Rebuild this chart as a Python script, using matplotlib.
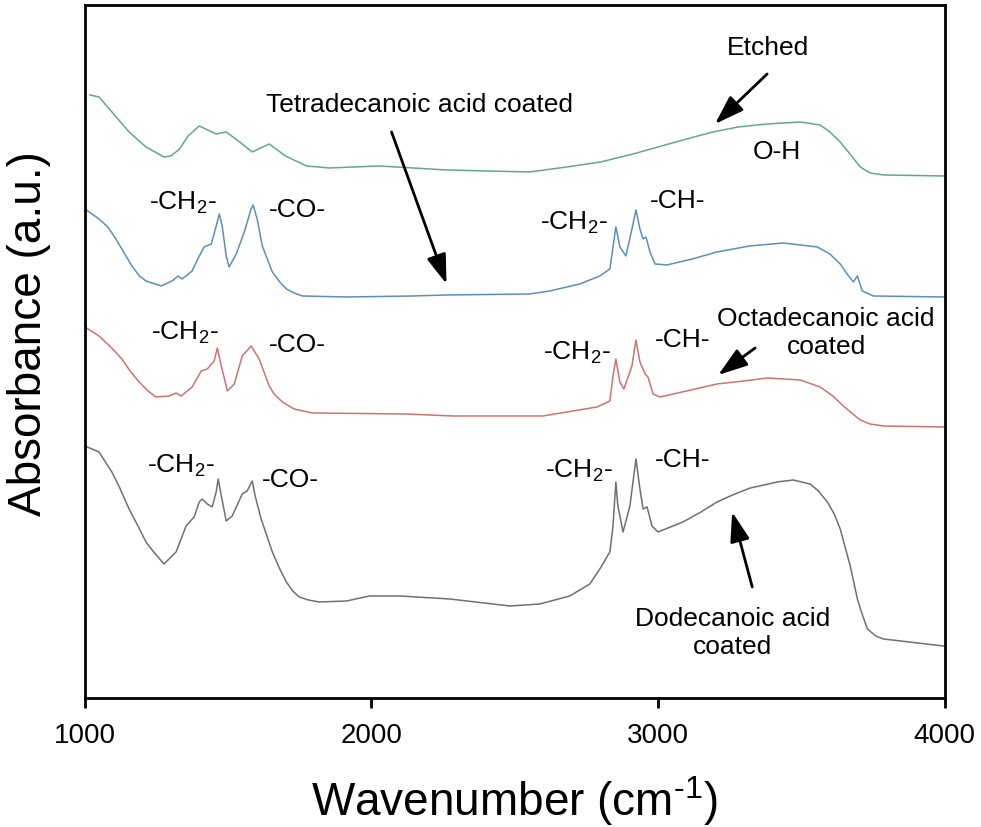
import matplotlib
matplotlib.use("Agg")
import matplotlib.pyplot as plt

plt.rcParams['font.family'] = ['Liberation Sans', 'DejaVu Sans']
plt.rcParams['mathtext.fontset'] = 'custom'
plt.rcParams['mathtext.rm'] = 'Liberation Sans'
plt.rcParams['mathtext.default'] = 'regular'

# FTIR spectra (wavenumber in cm-1, absorbance in a.u., stacked)
etched_wn = [1017, 1049, 1100, 1154, 1213, 1276, 1300, 1330, 1360, 1399, 1458, 1493, 1540, 1584,
             1643, 1700, 1773, 1853, 2028, 2262, 2552, 2682, 2800, 2913, 3050, 3100, 3192, 3280,
             3381, 3497, 3566, 3600, 3636, 3670, 3706, 3740, 3787, 3996]
etched_abs = [6.09, 6.07, 5.90, 5.72, 5.57, 5.47, 5.48, 5.55, 5.68, 5.78, 5.70, 5.72, 5.62, 5.52,
              5.60, 5.48, 5.38, 5.36, 5.38, 5.34, 5.32, 5.37, 5.42, 5.50, 5.61, 5.65, 5.72, 5.77,
              5.80, 5.82, 5.79, 5.72, 5.62, 5.50, 5.37, 5.31, 5.29, 5.28]

tetra_wn = [1000, 1049, 1080, 1108, 1135, 1164, 1190, 1213, 1266, 1304, 1325, 1339, 1374, 1399,
            1416, 1441, 1458, 1469, 1479, 1493, 1503, 1528, 1556, 1580, 1587, 1601, 1619, 1654,
            1680, 1703, 1730, 1759, 1913, 2143, 2262, 2552, 2622, 2727, 2797, 2832, 2843, 2853,
            2867, 2888, 2909, 2923, 2937, 2948, 2958, 2972, 2990, 3031, 3120, 3206, 3320, 3437,
            3556, 3600, 3636, 3660, 3682, 3696, 3713, 3752, 3996]
tetra_abs = [4.95, 4.85, 4.77, 4.65, 4.52, 4.38, 4.28, 4.23, 4.18, 4.23, 4.28, 4.25, 4.33, 4.48,
             4.57, 4.60, 4.78, 4.90, 4.78, 4.48, 4.37, 4.50, 4.72, 4.95, 4.99, 4.85, 4.58, 4.32,
             4.22, 4.15, 4.11, 4.08, 4.07, 4.08, 4.09, 4.10, 4.13, 4.20, 4.28, 4.35, 4.57, 4.77,
             4.57, 4.48, 4.75, 4.94, 4.75, 4.65, 4.67, 4.52, 4.40, 4.39, 4.45, 4.52, 4.58, 4.61,
             4.57, 4.50, 4.40, 4.30, 4.22, 4.28, 4.13, 4.08, 4.07]

octa_wn = [1000, 1049, 1090, 1129, 1160, 1189, 1220, 1248, 1294, 1318, 1336, 1374, 1406, 1427,
           1451, 1462, 1476, 1497, 1521, 1549, 1580, 1608, 1643, 1660, 1689, 1730, 1794, 2122,
           2283, 2598, 2787, 2832, 2843, 2853, 2867, 2881, 2909, 2923, 2937, 2955, 2965, 2983,
           3007, 3100, 3206, 3300, 3381, 3497, 3566, 3610, 3647, 3680, 3706, 3740, 3787, 3996]
octa_abs = [3.77, 3.68, 3.57, 3.45, 3.32, 3.22, 3.13, 3.07, 3.08, 3.11, 3.08, 3.17, 3.33, 3.35,
            3.43, 3.56, 3.38, 3.13, 3.20, 3.48, 3.58, 3.45, 3.18, 3.10, 3.02, 2.95, 2.91, 2.90,
            2.88, 2.88, 2.97, 3.03, 3.28, 3.45, 3.22, 3.15, 3.38, 3.64, 3.42, 3.30, 3.27, 3.10,
            3.07, 3.13, 3.20, 3.23, 3.26, 3.24, 3.17, 3.08, 2.98, 2.90, 2.84, 2.80, 2.78, 2.77]

dodec_wn = [1000, 1049, 1094, 1120, 1154, 1185, 1213, 1240, 1276, 1318, 1353, 1381, 1399, 1409,
            1427, 1444, 1458, 1465, 1476, 1493, 1514, 1549, 1566, 1584, 1594, 1615, 1654, 1680,
            1703, 1725, 1748, 1780, 1818, 1913, 1993, 2098, 2273, 2483, 2587, 2692, 2762, 2797,
            2832, 2843, 2853, 2860, 2878, 2902, 2923, 2937, 2948, 2962, 2979, 3000, 3087, 3150,
            3206, 3260, 3322, 3370, 3416, 3472, 3531, 3560, 3591, 3615, 3636, 3655, 3671, 3696,
            3710, 3731, 3760, 3787, 3996]
dodec_abs = [2.58, 2.52, 2.32, 2.17, 1.95, 1.78, 1.62, 1.52, 1.40, 1.52, 1.78, 1.87, 2.02, 2.05,
             2.00, 1.97, 2.12, 2.25, 2.08, 1.83, 1.88, 2.10, 2.13, 2.23, 2.08, 1.85, 1.52, 1.35,
             1.22, 1.13, 1.07, 1.04, 1.02, 1.03, 1.08, 1.08, 1.05, 0.98, 1.00, 1.08, 1.20, 1.35,
             1.52, 1.78, 2.22, 1.98, 1.72, 1.98, 2.45, 2.15, 1.95, 1.97, 1.78, 1.72, 1.82, 1.92,
             2.02, 2.09, 2.16, 2.19, 2.22, 2.24, 2.20, 2.13, 2.02, 1.90, 1.75, 1.55, 1.38, 1.05,
             0.92, 0.75, 0.68, 0.65, 0.58]

xticks = [1000, 2000, 3000, 4000]

# peak labels: (text, wavenumber, absorbance)
peak_labels = [
    (r'-CH$_2$-', 1224, 4.95), ('-CO-', 1643, 4.88), (r'-CH$_2$-', 2587, 4.75), ('-CH-', 2972, 4.97),
    (r'-CH$_2$-', 1231, 3.65), ('-CO-', 1643, 3.53), (r'-CH$_2$-', 2598, 3.45), ('-CH-', 2990, 3.58),
    (r'-CH$_2$-', 1217, 2.32), ('-CO-', 1619, 2.18), (r'-CH$_2$-', 2605, 2.27), ('-CH-', 2990, 2.38),
]

fig = plt.figure(figsize=(9.81, 8.28), dpi=100)
ax = fig.add_axes([0.0866, 0.1558, 0.9628 - 0.0866, 0.9928 - 0.1558])

lw = 1.1
ax.plot(etched_wn, etched_abs, color='#63a888', lw=lw)
ax.plot(tetra_wn, tetra_abs, color='#5b8fba', lw=lw)
ax.plot(octa_wn, octa_abs, color='#cc7373', lw=lw)
ax.plot(dodec_wn, dodec_abs, color='#707070', lw=lw)

ax.set_xlim(1000, 4000)
ax.set_ylim(0.06, 6.99)
ax.set_xticks(xticks)
ax.set_yticks([])
ax.tick_params(axis='x', direction='out', length=7, width=2, labelsize=20, pad=10)
for s in ax.spines.values():
    s.set_linewidth(2)

ax.set_xlabel(r'Wavenumber (cm$^{\text{-}1}$)', fontsize=33, labelpad=18)
ax.set_ylabel('Absorbance (a.u.)', fontsize=33)
ax.yaxis.set_label_coords(-0.04, 0.527)

fs = 19
for txt, x, y in peak_labels:
    ax.text(x, y, txt, fontsize=fs, ha='left', va='baseline')

ax.text(3385, 6.57, 'Etched', fontsize=fs, ha='center', va='center')
ax.text(3416, 5.53, 'O-H', fontsize=fs, ha='center', va='center')
ax.text(2168, 6.00, 'Tetradecanoic acid coated', fontsize=fs, ha='center', va='center')
ax.text(3587, 3.72, 'Octadecanoic acid\ncoated', fontsize=fs, ha='center', va='center')
ax.text(3259, 0.72, 'Dodecanoic acid\ncoated', fontsize=fs, ha='center', va='center')

arrow = dict(arrowstyle='-|>,head_length=0.9,head_width=0.3', color='k', lw=2,
             shrinkA=0, shrinkB=0, mutation_scale=20)
ax.annotate('', xy=(3199, 5.80), xytext=(3381, 6.30), arrowprops=arrow)
ax.annotate('', xy=(2262, 4.20), xytext=(2070, 5.72), arrowprops=arrow)
ax.annotate('', xy=(3210, 3.29), xytext=(3339, 3.56), arrowprops=arrow)
ax.annotate('', xy=(3259, 1.92), xytext=(3329, 1.17), arrowprops=arrow)

plt.savefig('out.png', dpi=100)
